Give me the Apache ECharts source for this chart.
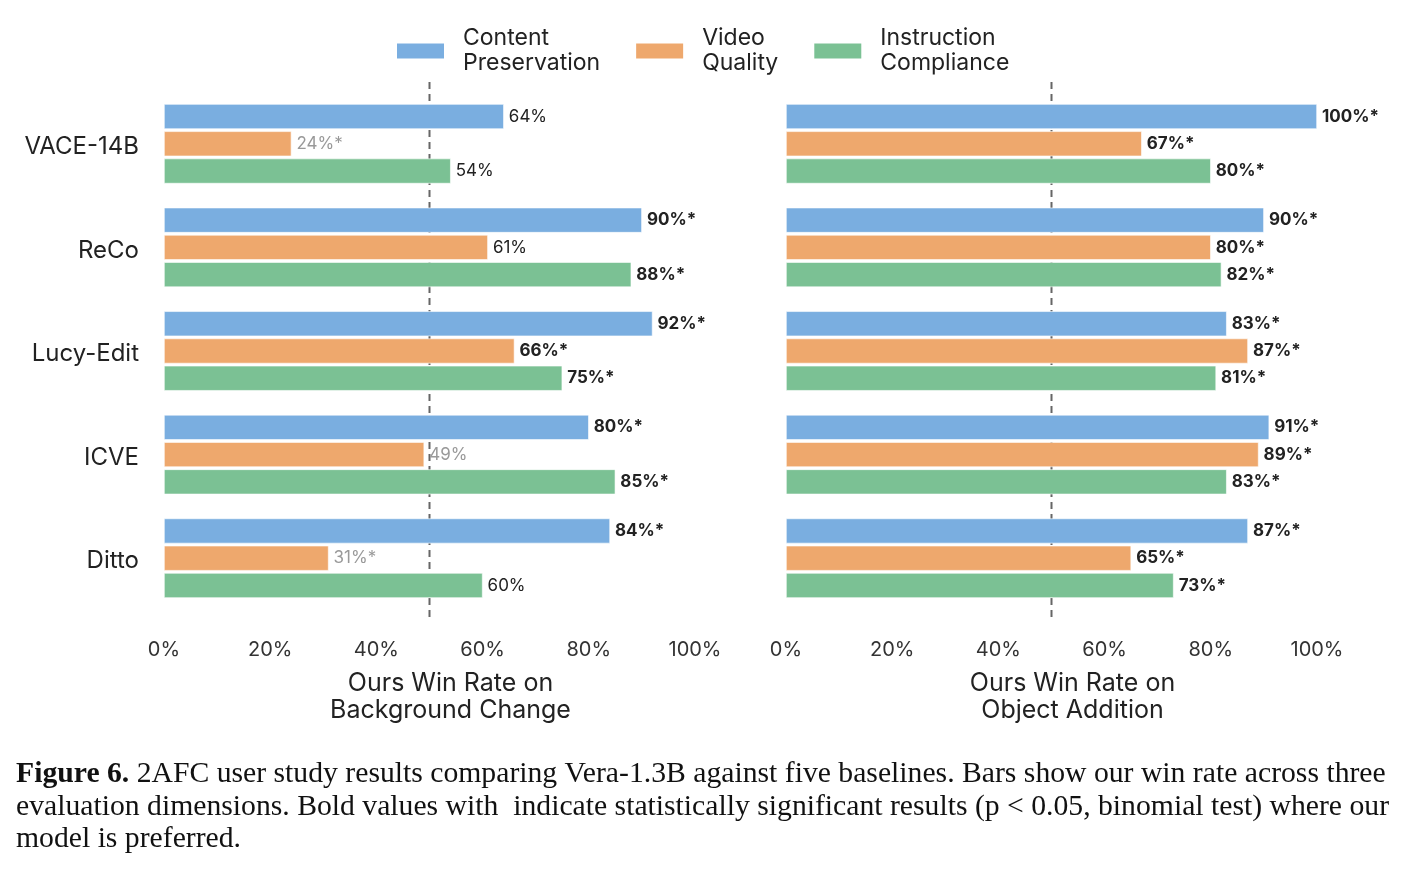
<!DOCTYPE html>
<html>
<head>
<meta charset="utf-8">
<script src="https://cdn.jsdelivr.net/npm/echarts@6/dist/echarts.min.js"></script>
<style>
  html, body { margin: 0; padding: 0; background: #fff; }
  #chart { width: 1406px; height: 870px; }
</style>
</head>
<body>
<div id="chart"></div>
<script>
// baselines (top to bottom)
const baselines = ['VACE-14B', 'ReCo', 'Lucy-Edit', 'ICVE', 'Ditto']
const dims = ['Content Preservation', 'Video Quality', 'Instruction Compliance']
const colors = ['#7aaee0', '#eea86d', '#7bc194']

// win rates (%) per dimension, background change
const bgContent = [64, 90, 92, 80, 84]
const bgQuality = [24, 61, 66, 49, 31]
const bgInstr   = [54, 88, 75, 85, 60]
// significance flags (*)
const bgContentSig = [0, 1, 1, 1, 1]
const bgQualitySig = [1, 0, 1, 0, 1]
const bgInstrSig   = [0, 1, 1, 1, 0]

// win rates (%) per dimension, object addition
const objContent = [100, 90, 83, 91, 87]
const objQuality = [67, 80, 87, 89, 65]
const objInstr   = [80, 82, 81, 83, 73]
const objContentSig = [1, 1, 1, 1, 1]
const objQualitySig = [1, 1, 1, 1, 1]
const objInstrSig   = [1, 1, 1, 1, 1]

const chanceLevel = 50

const chart = echarts.init(document.getElementById('chart'))

function barData(vals, sig) {
  return vals.map(function (v, i) {
    let color = '#222'
    let weight = 'normal'
    if (v < 50) color = '#999'
    else if (sig[i]) weight = 'bold'
    return {
      value: v,
      label: { color: color, fontWeight: weight, formatter: v + '%' + (sig[i] ? '*' : '') }
    }
  })
}

const panels = [
  { left: 164, name: 'Ours Win Rate on\nBackground Change', vals: [bgContent, bgQuality, bgInstr], sig: [bgContentSig, bgQualitySig, bgInstrSig] },
  { left: 786, name: 'Ours Win Rate on\nObject Addition', vals: [objContent, objQuality, objInstr], sig: [objContentSig, objQualitySig, objInstrSig] }
]

const grid = [], xAxis = [], yAxis = [], series = []
panels.forEach(function (p, k) {
  // bar grid
  grid.push({ left: p.left, width: 531, top: 92, height: 518 })
  // overlay grid for the dashed 50% line
  grid.push({ left: p.left, width: 531, top: 82, height: 538 })
  const g = k * 2
  xAxis.push({
    gridIndex: g, type: 'value', min: 0, max: 100, interval: 20,
    splitLine: { show: false }, axisLine: { show: false }, axisTick: { show: false },
    axisLabel: { formatter: '{value}%', color: '#333', fontSize: 20, margin: 30, fontFamily: 'Inter' },
    name: p.name, nameLocation: 'middle', nameGap: 60,
    nameTextStyle: { fontSize: 25, color: '#222', lineHeight: 27, fontFamily: 'Inter', padding: [0, 0, 0, 42] }
  })
  xAxis.push({ gridIndex: g + 1, type: 'value', min: 0, max: 100, show: false })
  yAxis.push({
    gridIndex: g, type: 'category', data: baselines, inverse: true,
    axisLine: { show: false }, axisTick: { show: false },
    axisLabel: {
      show: k === 0, margin: 25,
      formatter: function (v) { return '{a|' + v + '}' },
      rich: { a: { color: '#222', fontSize: 24, fontFamily: 'Inter', padding: [6, 0, 0, 0] } }
    }
  })
  yAxis.push({ gridIndex: g + 1, type: 'value', min: 0, max: 1, show: false })

  series.push({
    type: 'line', xAxisIndex: g + 1, yAxisIndex: g + 1, silent: true, symbol: 'none',
    data: [[chanceLevel, 1], [chanceLevel, 0]],
    lineStyle: { color: '#666', width: 2, type: [7, 5] }, z: 1
  })
  dims.forEach(function (d, j) {
    series.push({
      name: d, type: 'bar', xAxisIndex: g, yAxisIndex: g,
      data: barData(p.vals[j], p.sig[j]),
      barWidth: 25, barGap: '9%',
      itemStyle: { color: colors[j], borderColor: '#ffffff', borderWidth: 0.6 },
      label: { show: true, position: 'right', distance: 5, fontSize: 17, fontFamily: 'Inter' },
      z: 2
    })
  })
})

chart.setOption({
  animation: false,
  textStyle: { fontFamily: 'Inter' },
  title: {
    left: 16, top: 758, padding: 0,
    text: '{b|Figure 6.} 2AFC user study results comparing Vera-1.3B against five baselines. Bars show our win rate across three\n' +
          'evaluation dimensions. Bold values with  indicate statistically significant results (p < 0.05, binomial test) where our\n' +
          'model is preferred.',
    textStyle: {
      fontFamily: 'Liberation Serif', fontSize: 29.7, fontWeight: 'normal', color: '#111', lineHeight: 32.5,
      rich: { b: { fontFamily: 'Liberation Serif', fontSize: 29.7, fontWeight: 'bold', color: '#111' } }
    }
  },
  legend: {
    data: dims, left: 390, top: 21,
    itemWidth: 49, itemHeight: 17, itemGap: 34, icon: 'rect',
    formatter: function (n) { return n.replace(' ', '\n') },
    textStyle: { fontSize: 23, color: '#222', lineHeight: 25, padding: [0, 0, 0, 13], fontFamily: 'Inter' }
  },
  grid: grid, xAxis: xAxis, yAxis: yAxis, series: series
})
</script>
</body>
</html>
